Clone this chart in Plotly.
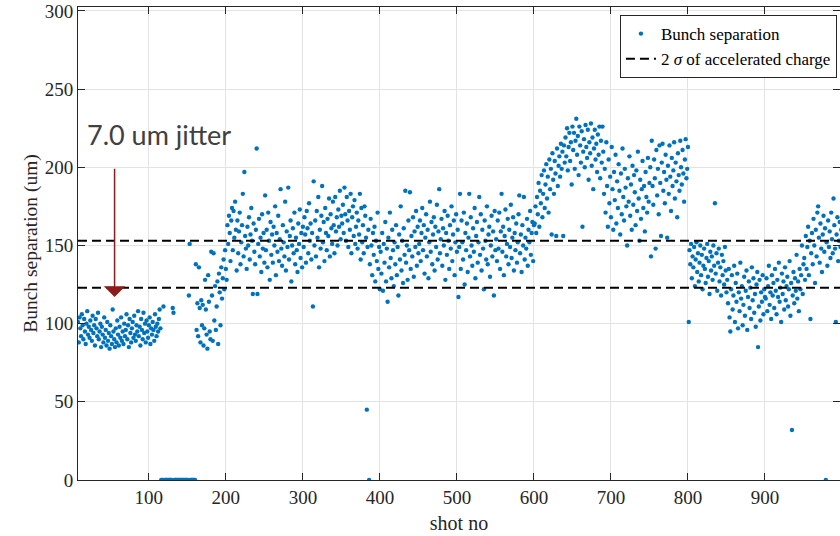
import plotly.graph_objects as go

# ---- data (bunch separation per shot, um) ----
sep_a = [101,88,104,97,92,106,99,90,103,95,
         87,100,108,93,98,91,102,96,89,105,
         94,99,86,103,97,92,107,90,95,100,
         85,98,93,88,104,91,96,86,101,89,
         94,84,99,92,87,109,95,90,85,97,
         88,102,93,86,98,91,104,89,95,87,
         100,92,96,106,90,99,85,103,94,88,
         97,101,91,105,93,89,99,95,108,92,
         98,86,103,96,90,107,94,100,88,102,
         95,91,99,104,87,97,93,101,96,89,
         106,98,92,100,95,103,109,97]
sep_b = [0,0,0,111,0,0,0,0,0,0,
         0,0,0,0,0,110,107,0,0,0,
         0,0,0,0,0,0,0,0,0,0,
         0,0,0,0,0,0,118,151,0,0,
         0,0,0,0,0]
sep_c = [138,96,113,92,136,110,88,115,99,112,
         86,97,128,109,93,84,131,114,95,90,
         146,118,89,145,102,124,96,111,127,87,
         132,120,99,136,116,129,141,122,147,135]
sep_d = [128,163,151,169,158,140,166,174,147,172,
         155,178,160,134,166,145,159,171,138,152,
         163,183,143,197,156,148,135,162,150,168,
         141,157,174,153,119,164,146,138,160,212,
         119,151,167,143,155,133,170,148,158,139,
         182,147,160,136,171,153,128,165,144,157,
         139,162,150,175,131,158,146,169,140,154,
         186,148,137,163,152,143,178,134,159,149,
         187,141,156,166,127,150,161,145,171,138,
         155,147,133,164,151,173,142,158,136,162,
         149,168,157,139,172,161,145,177,153,164,
         141,158,111,191,150,166,143,172,155,181,
         136,160,148,169,188,152,165,140,174,158,
         147,167,156,180,143,170,161,151,178,163,
         145,181,159,168,150,173,162,185,154,169,
         164,176,158,187,170,153,181,166,149,172,
         160,183,145,168,175,156,179,151,162,171,
         148,166,157,183,141,174,152,163,145,175,
         169,155,45,149,160,0,138,167,150,131,
         158,144,162,127,153,140,171,135,149,122]
sep_e = [146,132,158,121,151,139,165,127,148,114,
         155,136,171,142,129,160,147,124,152,138,
         163,131,149,118,157,141,175,134,153,126,
         161,144,185,139,150,128,166,147,184,135,
         156,143,168,130,159,149,172,137,162,145,
         151,166,140,158,174,147,163,132,155,170,
         143,160,129,152,178,146,165,138,157,168,
         134,162,149,176,141,159,186,145,154,167,
         137,161,150,172,128,158,144,169,153,135,
         163,148,175,140,157,166,131,152,170,146,
         160,117,149,183,135,166,152,141,171,125,
         158,147,164,133,155,183,143,168,150,137,
         161,146,174,129,156,165,139,152,181,144,
         170,134,160,148,122,166,153,141,175,138,
         157,162,130,150,169,143,159,118,172,147,
         154,140,166,148,171,135,159,183,146,162,
         131,156,173,143,151,167,138,160,149,176,
         142,155,168,134,158,147,164,139,152,170,
         182,145,157,133,163,150,181,141,155,148,
         167,137,160,152,172,144,158,165,140,163]
sep_f = [164,175,158,181,170,190,162,185,177,195,
         168,183,198,174,189,202,180,194,171,205,
         186,199,157,209,192,183,204,196,156,212,
         188,201,207,194,215,199,210,156,214,203]
sep_g = [219,207,225,198,213,222,204,216,189,226,
         211,222,199,217,231,208,220,195,226,214,
         203,223,162,210,218,200,227,213,206,224,
         192,216,209,228,201,219,186,212,224,205,
         215,197,221,208,226,193,217,203,226,210,
         183,199,171,216,188,162,205,177,194,168,
         213,186,160,197,179,208,164,191,174,202,
         185,157,196,170,212,181,166,199,187,175,
         150,193,178,207,169,189,160,201,176,195,
         184,163,198,172,210,180,153,192,167,186,
         204,174,188,159,197,181,171,206,178,190,
         200,143,217,188,176,205,193,148,211,182,
         199,170,214,190,156,203,215,185,197,177,
         208,192,155,201,183,214,194,172,206,188,
         198,216,180,203,191,168,209,195,185,217,
         200,189,211,196,178,205,218,193,199,213]
sep_h = [101,147,138,151,129,143,136,149,124,141,
         152,133,145,127,139,150,131,144,122,137,
         148,135,126,142,151,130,140,119,146,134,
         143,128,150,137,177,132,145,121,139,148,
         127,136,118,144,131,140,125,149,134,120,
         128,113,135,104,95,122,131,109,118,137,
         101,126,114,132,97,120,108,139,116,124,
         99,112,130,105,121,134,96,117,127,110,
         123,103,136,115,129,107,119,98,125,133,
         85,111,128,102,120,114,131,106,122,117]
sep_i = [116,129,108,124,137,112,120,103,131,118,
         126,110,135,121,106,128,117,139,114,123,
         101,132,119,127,109,136,115,124,130,111,
         122,140,105,126,32,118,133,113,129,121,
         144,116,127,108,135,122,131,150,119,138,
         142,128,156,135,149,162,131,153,103,145,
         158,138,167,150,126,160,143,171,175,155,
         139,164,148,133,157,169,146,161,0,152,
         137,166,149,159,142,171,154,145,180,163,
         148,101,157,168,140,153,165,149,160,151]

first_shot = 8
separation = sep_a + sep_b + sep_c + sep_d + sep_e + sep_f + sep_g + sep_h + sep_i
shots = list(range(first_shot, first_shot + len(separation)))

sigma_levels = [123, 153]          # 2 sigma band of accelerated charge
jitter_text = "7.0 um jitter"
arrow_shot, arrow_from, arrow_to = 55.5, 200, 117
x_ticks = [100, 200, 300, 400, 500, 600, 700, 800, 900]
y_ticks = [0, 50, 100, 150, 200, 250, 300]

SERIF = "Liberation Serif"
AX = "#262626"

fig = go.Figure()
fig.add_trace(go.Scatter(
    x=shots, y=separation, mode="markers", name="Bunch separation",
    marker=dict(color="#0072BD", size=4.4, line=dict(width=0)),
))
lx, ly = [], []
for lev in sigma_levels:
    lx += [shots[0], shots[-1], None]
    ly += [lev, lev, None]
fig.add_trace(go.Scatter(
    x=lx, y=ly, mode="lines", name="2 <i>σ</i> of accelerated charge",
    line=dict(color="black", width=2, dash="9px,5px"), connectgaps=False,
))

fig.add_annotation(x=arrow_shot, y=arrow_to, ax=arrow_shot, ay=arrow_from,
                   xref="x", yref="y", axref="x", ayref="y", text="",
                   showarrow=True, arrowhead=1, arrowsize=2.4, arrowwidth=1.5,
                   arrowcolor="#8E1B1B")
fig.add_annotation(x=17.5, y=221, xref="x", yref="y", text=jitter_text,
                   showarrow=False, xanchor="left", yanchor="middle",
                   font=dict(family="Lato", size=27, color="#404040"))

fig.update_layout(
    width=840, height=536,
    margin=dict(l=78, r=0, t=7, b=56),
    plot_bgcolor="white", paper_bgcolor="white",
    font=dict(family=SERIF, size=19, color=AX),
    showlegend=True,
    legend=dict(x=0.996, y=0.983, xanchor="right", yanchor="top",
                bgcolor="white", bordercolor=AX, borderwidth=1,
                font=dict(family=SERIF, size=17, color="black"),
                tracegroupgap=0, itemwidth=30),
)
fig.update_xaxes(
    range=[first_shot, 997.4], tickvals=x_ticks, ticks="inside", ticklen=7,
    tickcolor=AX, showline=True, linecolor=AX, linewidth=1, mirror="ticks",
    showgrid=True, gridcolor="#e3e3e3", gridwidth=1, zeroline=False,
    title=dict(text="shot no", font=dict(family=SERIF, size=20, color=AX), standoff=9),
    tickfont=dict(family=SERIF, size=19, color=AX),
)
fig.update_yaxes(
    range=[0, 302.5], tickvals=y_ticks, ticks="inside", ticklen=7,
    tickcolor=AX, showline=True, linecolor=AX, linewidth=1, mirror="ticks",
    showgrid=True, gridcolor="#e3e3e3", gridwidth=1, zeroline=False,
    title=dict(text="Bunch separation (um)", font=dict(family=SERIF, size=19.5, color=AX), standoff=1),
    tickfont=dict(family=SERIF, size=19, color=AX),
)

fig.write_html("out.html")
